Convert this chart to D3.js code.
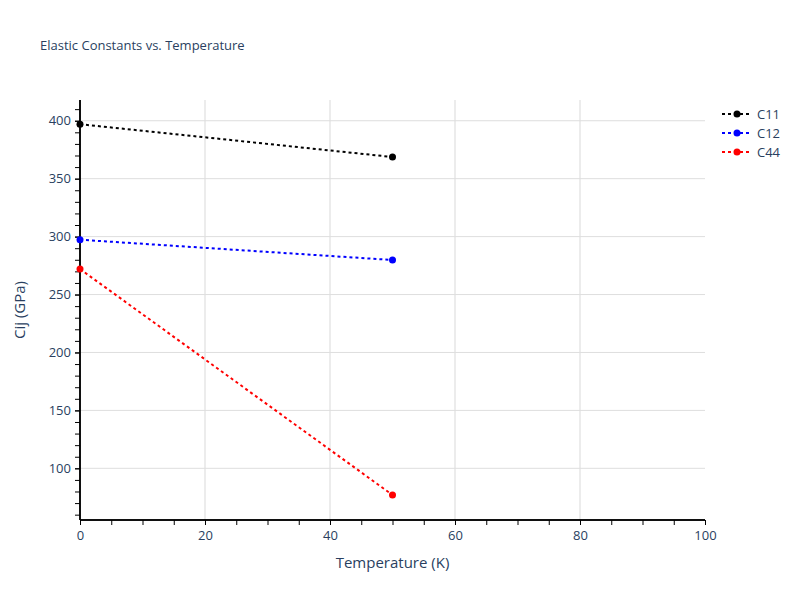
<!DOCTYPE html>
<html><head><meta charset="utf-8">
<script src="https://cdn.jsdelivr.net/npm/d3@7"></script>
<style>body{margin:0;background:#fff}</style>
</head><body>
<script>
const temperatures = [0, 50];
const seriesNames = ["C11", "C12", "C44"];
const c11 = [397, 368.7];
const c12 = [297.3, 279.8];
const c44 = [272, 77];
const seriesColors = ["#000000", "#0000ff", "#ff0000"];
const xTicks = [0, 20, 40, 60, 80, 100];
const yTicks = [100, 150, 200, 250, 300, 350, 400];

const W = 800, H = 600;
const m = {l: 80, r: 95, t: 100, b: 80};
const svg = d3.select("body").append("svg").attr("width", W).attr("height", H)
  .style("font-family", "'Open Sans', sans-serif");
const x = d3.scaleLinear().domain([0, 100]).range([m.l, W - m.r]);
const y = d3.scaleLinear().domain([55.4, 417.9]).range([H - m.b, m.t]);
const txt = "#2a3f5f";

// grid
svg.append("g").selectAll("line").data(xTicks.filter(d => d > 0 && d < 100)).join("line")
  .attr("x1", d => x(d)).attr("x2", d => x(d)).attr("y1", m.t).attr("y2", H - m.b)
  .attr("stroke", "#e6e6e6").attr("stroke-width", 1.5);
svg.append("g").selectAll("line").data(yTicks).join("line")
  .attr("x1", m.l).attr("x2", W - m.r).attr("y1", d => y(d)).attr("y2", d => y(d))
  .attr("stroke", "#dedede").attr("stroke-width", 1);

// axes
const xAxis = svg.append("g").attr("transform", `translate(0,${H - m.b})`)
  .call(d3.axisBottom(x).tickValues(xTicks).tickSize(5).tickPadding(6));
const xMinor = svg.append("g").attr("transform", `translate(0,${H - m.b})`)
  .call(d3.axisBottom(x).tickValues(d3.range(0, 101, 5)).tickSize(5).tickFormat(""));
const yAxis = svg.append("g").attr("transform", `translate(${m.l},0)`)
  .call(d3.axisLeft(y).tickValues(yTicks).tickSize(5).tickPadding(4));
const yMinor = svg.append("g").attr("transform", `translate(${m.l},0)`)
  .call(d3.axisLeft(y).tickValues(d3.range(60, 418, 10)).tickSize(5).tickFormat(""));
[xAxis, xMinor, yAxis, yMinor].forEach(g => {
  g.select(".domain").attr("stroke", "#000").attr("stroke-width", 1.5);
  g.selectAll(".tick line").attr("stroke", "#000");
  g.selectAll(".tick text").attr("fill", txt).style("font-size", "13px").style("font-family", "'Open Sans', sans-serif");
});
xAxis.select(".domain").attr("d", `M${m.l},0H${W - m.r}`);
xMinor.select(".domain").attr("d", `M${m.l},0H${W - m.r}`);
yAxis.select(".domain").attr("d", `M0,${m.t}V${H - m.b}`);
yMinor.select(".domain").attr("d", `M0,${m.t}V${H - m.b}`);

// titles
svg.append("text").attr("x", 40).attr("y", 50).attr("fill", txt).style("font-size", "13px")
  .text("Elastic Constants vs. Temperature");
svg.append("text").attr("x", x(50)).attr("y", 568).attr("text-anchor", "middle").attr("fill", txt)
  .style("font-size", "15px").text("Temperature (K)");
svg.append("text").attr("transform", `translate(25,${(m.t + H - m.b) / 2}) rotate(-90)`)
  .attr("text-anchor", "middle").attr("fill", txt).style("font-size", "15px").text("Cij (GPa)");

// series
const data = [c11, c12, c44];
const line = d3.line().x((d, i) => x(temperatures[i])).y(d => y(d));
const plot = svg.append("g");
data.forEach((vals, k) => {
  plot.append("path").datum(vals).attr("d", line).attr("fill", "none")
    .attr("stroke", seriesColors[k]).attr("stroke-width", 2).attr("stroke-dasharray", "3,3");
  plot.selectAll(null).data(vals).join("circle")
    .attr("cx", (d, i) => x(temperatures[i])).attr("cy", d => y(d)).attr("r", 3.5)
    .attr("fill", seriesColors[k]);
});

// legend
const lg = svg.append("g").attr("transform", "translate(722,114)");
seriesNames.forEach((name, k) => {
  const g = lg.append("g").attr("transform", `translate(0,${k * 19})`);
  g.append("line").attr("x1", 0).attr("x2", 30).attr("y1", 0).attr("y2", 0)
    .attr("stroke", seriesColors[k]).attr("stroke-width", 2).attr("stroke-dasharray", "3,3");
  g.append("circle").attr("cx", 15).attr("cy", 0).attr("r", 3.5).attr("fill", seriesColors[k]);
  g.append("text").attr("x", 35).attr("y", 4.5).attr("fill", txt).style("font-size", "13px").text(name);
});
</script>
</body></html>
